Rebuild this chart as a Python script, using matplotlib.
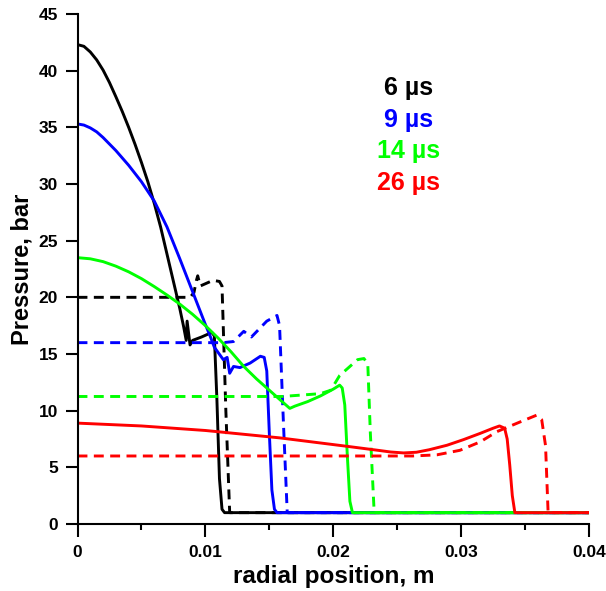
import matplotlib
matplotlib.use("Agg")
import matplotlib.pyplot as plt
from matplotlib.ticker import MultipleLocator

plt.rcParams['font.family'] = ['Liberation Sans', 'DejaVu Sans']
plt.rcParams['font.weight'] = 'bold'

# ---- data (radial position in m, pressure in bar) ----
# 6 us
x6_solid = [0, 0.0005, 0.001, 0.0015, 0.002, 0.0025, 0.003, 0.0035, 0.004, 0.0045, 0.005, 0.0055, 0.006,
            0.0065, 0.007, 0.0075, 0.008, 0.0083, 0.0085, 0.00857, 0.0088, 0.0090, 0.0097, 0.0105,
            0.0107, 0.0109, 0.0111, 0.0113, 0.0115, 0.04]
p6_solid = [42.3, 42.15, 41.65, 40.95, 40.05, 38.95, 37.7, 36.4, 35.0, 33.5, 31.9, 30.2, 28.3,
            26.2, 23.8, 21.4, 19.0, 17.4, 16.2, 17.9, 15.8, 16.2, 16.5, 16.9,
            16.6, 11.0, 4.0, 1.3, 1.0, 1.0]
x6_dash = [0, 0.0088, 0.0091, 0.0093, 0.0094, 0.0096, 0.0100, 0.0106, 0.0111, 0.0113, 0.0116, 0.0119, 0.04]
p6_dash = [20.0, 20.0, 20.4, 21.5, 21.9, 21.0, 21.2, 21.5, 21.4, 21.0, 10.0, 1.0, 1.0]

# 9 us
x9_solid = [0, 0.0005, 0.001, 0.0015, 0.002, 0.003, 0.004, 0.005, 0.006, 0.007, 0.008, 0.009, 0.010, 0.0104, 0.0107,
            0.0114, 0.0117, 0.0119, 0.0122, 0.0127, 0.0135, 0.0143, 0.0146, 0.0148, 0.0150, 0.0152,
            0.0154, 0.0156, 0.04]
p9_solid = [35.3, 35.2, 34.95, 34.6, 34.1, 32.95, 31.65, 30.2, 28.5, 26.2, 23.4, 20.5, 17.6, 16.5, 15.6,
            14.5, 14.7, 13.3, 13.9, 13.8, 14.2, 14.8, 14.7, 13.5, 8.0, 3.0,
            1.3, 1.0, 1.0]
x9_dash = [0, 0.0114, 0.0122, 0.0130, 0.0136, 0.0148, 0.0156, 0.0158, 0.0161, 0.0164, 0.04]
p9_dash = [16.0, 16.0, 16.1, 17.0, 16.5, 17.9, 18.4, 17.5, 9.0, 1.0, 1.0]

# 14 us
x14_solid = [0, 0.001, 0.002, 0.003, 0.004, 0.005, 0.006, 0.007, 0.008, 0.009, 0.010, 0.011, 0.012,
             0.013, 0.014, 0.015, 0.016, 0.0163, 0.0166, 0.017, 0.018, 0.019, 0.020, 0.0205,
             0.0207, 0.0209, 0.0211, 0.0213, 0.0215, 0.04]
p14_solid = [23.5, 23.4, 23.15, 22.75, 22.25, 21.65, 20.95, 20.2, 19.4, 18.5, 17.5, 16.4, 15.2,
             13.9, 12.8, 11.8, 10.8, 10.5, 10.2, 10.4, 10.8, 11.3, 11.9, 12.25,
             12.0, 10.5, 6.0, 2.0, 1.0, 1.0]
x14_dash = [0, 0.0160, 0.0190, 0.0198, 0.0205, 0.0219, 0.0224, 0.0227, 0.0229, 0.0232, 0.04]
p14_dash = [11.25, 11.25, 11.5, 11.8, 13.1, 14.5, 14.6, 14.1, 8.0, 1.0, 1.0]

# 26 us
x26_solid = [0, 0.005, 0.010, 0.0158, 0.0211, 0.0235, 0.0245, 0.0255, 0.0265, 0.0275, 0.0289, 0.0302,
             0.0315, 0.0325, 0.0330, 0.0334, 0.0336, 0.0338, 0.0340, 0.0342, 0.04]
p26_solid = [8.9, 8.65, 8.25, 7.6, 6.85, 6.5, 6.35, 6.27, 6.33, 6.55, 6.95, 7.45,
             8.0, 8.45, 8.65, 8.45, 7.5, 5.2, 2.5, 1.0, 1.0]
x26_dash = [0, 0.0262, 0.0281, 0.0299, 0.0315, 0.0328, 0.0346, 0.0359, 0.0363, 0.0366, 0.0368, 0.04]
p26_dash = [6.0, 6.0, 6.1, 6.5, 7.25, 8.15, 9.0, 9.6, 9.2, 6.9, 1.0, 1.0]

labels = ['6 \u00b5s', '9 \u00b5s', '14 \u00b5s', '26 \u00b5s']
colors = ['#000000', '#0000ff', '#00ff00', '#ff0000']

x_ticks = [0, 0.01, 0.02, 0.03, 0.04]
x_ticklabels = ['0', '0.01', '0.02', '0.03', '0.04']
y_ticks = [0, 5, 10, 15, 20, 25, 30, 35, 40, 45]

fig = plt.figure(figsize=(6.06, 5.91), dpi=100)
ax = fig.add_axes([0.1279, 0.1134, 0.972 - 0.1279, 0.9763 - 0.1134])

lw = 2.1
series = [
    (x6_solid, p6_solid, x6_dash, p6_dash),
    (x9_solid, p9_solid, x9_dash, p9_dash),
    (x14_solid, p14_solid, x14_dash, p14_dash),
    (x26_solid, p26_solid, x26_dash, p26_dash),
]
for (xs, ps, xd, pd), c in zip(series, colors):
    ax.plot(xs, ps, color=c, lw=lw, solid_joinstyle='round')
    ax.plot(xd, pd, color=c, lw=lw, dashes=(3.4, 2.2))

ax.set_xlim(0, 0.04)
ax.set_ylim(0, 45)
ax.spines['top'].set_visible(False)
ax.spines['right'].set_visible(False)
for s in ['left', 'bottom']:
    ax.spines[s].set_linewidth(1.5)

ax.set_xticks(x_ticks)
ax.set_xticklabels(x_ticklabels)
ax.xaxis.set_minor_locator(MultipleLocator(0.005))
ax.set_yticks(y_ticks)
ax.tick_params(axis='both', which='major', direction='out', length=9, width=1.5, labelsize=12.5)
ax.tick_params(axis='x', which='minor', direction='out', length=4.5, width=1.5)
ax.tick_params(axis='x', which='major', pad=6)
ax.tick_params(axis='y', which='major', pad=5)
for t in ax.get_xticklabels() + ax.get_yticklabels():
    t.set_fontweight('bold')

ax.set_xlabel('radial position, m', fontsize=17.5, fontweight='bold', labelpad=4)
ax.set_ylabel('Pressure, bar', fontsize=17, fontweight='bold', labelpad=4)

text_y = [0.855, 0.793, 0.731, 0.669]
for lab, c, ty in zip(labels, colors, text_y):
    ax.text(0.647, ty, lab, color=c, fontsize=18, fontweight='bold',
            ha='center', va='center', transform=ax.transAxes)

fig.savefig('out.png', dpi=100)
